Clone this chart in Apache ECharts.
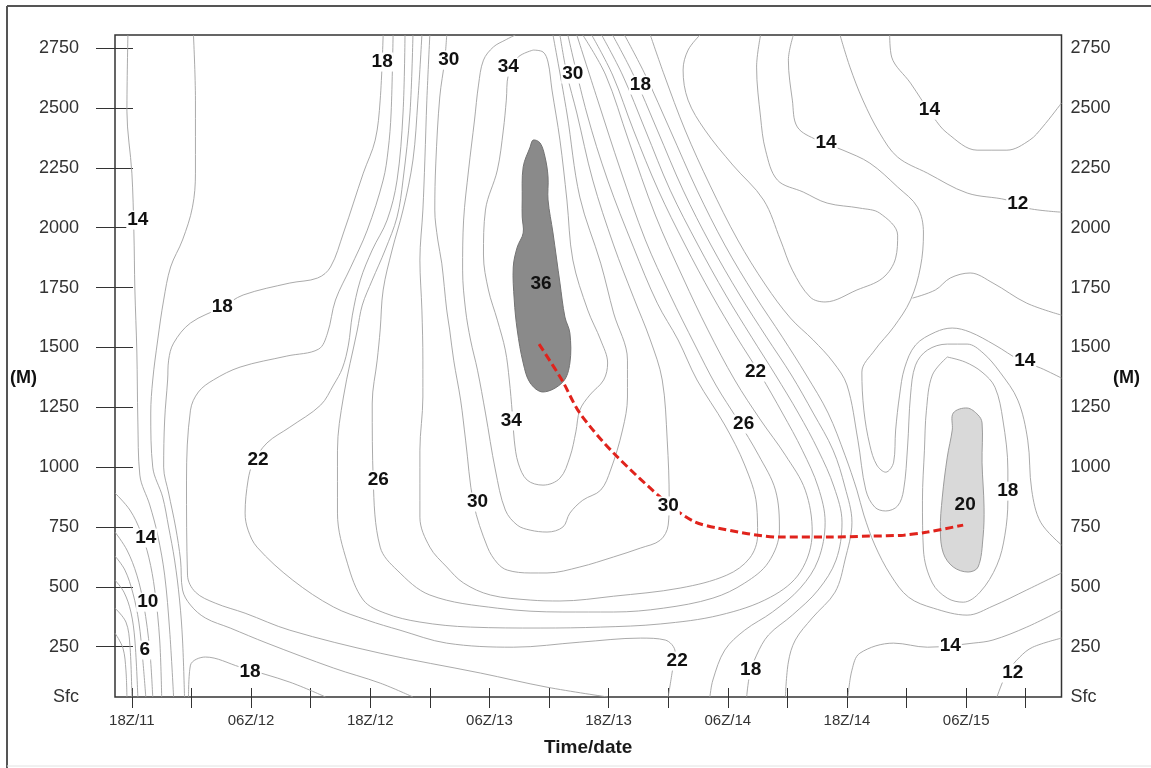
<!DOCTYPE html>
<html>
<head>
<meta charset="utf-8">
<script src="https://cdn.jsdelivr.net/npm/echarts@6.0.0/dist/echarts.min.js"></script>
<style>
  html, body { margin: 0; padding: 0; background: #fff; }
  #chart { width: 1151px; height: 768px; }
</style>
</head>
<body>
<div id="chart"></div>
<script>
// x = hours after 18Z/11, y = height in metres
const timeLabels = ['18Z/11', '06Z/12', '18Z/12', '06Z/13', '18Z/13', '06Z/14', '18Z/14', '06Z/15']
const labelHours = [0, 12, 24, 36, 48, 60, 72, 84]
const tickHours = [0, 6, 12, 18, 24, 30, 36, 42, 48, 54, 60, 66, 72, 78, 84, 90]
const heightTicks = [250, 500, 750, 1000, 1250, 1500, 1750, 2000, 2250, 2500, 2750]
const SFC = 40
const TOP = 2805
const T_MIN = -1.7
const T_MAX = 93.6

// isotachs, west side
const cWest4 = [[-1.7,307],[-0.9,244],[-0.6,152],[-0.5,40]]
const cWest6 = [[-1.7,411],[-0.6,353],[-0.2,257],[0.0,40]]
const cWest8 = [[-1.7,528],[-0.8,478],[-0.1,395],[0.3,278],[0.6,40]]
const cWest10 = [[-1.7,629],[-0.7,570],[0.1,474],[0.7,353],[1.1,194],[1.4,40]]
const cWest12 = [[-1.7,729],[-0.5,654],[0.5,549],[1.2,424],[1.8,236],[2.1,40]]
const cWest14 = [[-1.7,892],[-0.2,821],[0.9,729],[1.7,624],[2.3,487],[2.8,278],[3.0,40]]
const c14a = [[-0.4,2805],[-0.5,2487],[0.0,2228],[0.2,1986],[0.3,1744],[0.5,1481],[0.6,1197],[0.8,967],[1.8,842],[2.6,716],[3.3,549],[3.8,320],[4.2,40]]
const c16a = [[6.2,2805],[6.4,2533],[6.4,2228],[6.1,2086],[5.1,1949],[3.9,1836],[3.2,1698],[2.6,1531],[2.1,1364],[1.9,1226],[2.1,1000],[3.1,875],[3.7,750],[4.3,612],[4.8,445],[5.1,278],[5.3,40]]
const c18a = [[25.3,2805],[25.0,2533],[24.5,2366],[23.3,2228],[21.3,1978],[20.0,1836],[18.7,1790],[15.9,1769],[11.2,1719],[9.1,1669],[5.9,1602],[4.2,1518],[3.7,1447],[3.6,1364],[3.3,1197],[3.2,1000],[3.7,892],[4.4,750],[4.9,612],[5.1,487],[5.9,424],[7.4,370],[9.9,328],[13.6,265],[20.3,161],[25.0,98],[28.3,40]]
const c18Arch = [[5.7,40],[5.9,173],[7.4,207],[10.9,165],[15.9,102],[19.5,40]]
const c20a = [[26.3,2805],[26.1,2479],[25.8,2324],[25.3,2199],[23.7,1990],[22.0,1832],[20.5,1698],[19.7,1560],[18.8,1493],[15.6,1464],[10.9,1418],[8.2,1364],[6.7,1314],[5.9,1238],[5.5,946],[5.6,549],[6.4,478],[8.4,432],[11.4,390],[15.9,319],[25.0,223],[35.1,140],[41.8,81],[47.9,40]]
const c22a = [[27.5,2805],[27.3,2479],[26.7,2199],[25.7,2032],[24.2,1907],[23.0,1781],[22.2,1635],[21.8,1510],[21.2,1414],[20.3,1343],[19.0,1259],[15.9,1167],[13.6,1101],[12.2,1017],[11.7,946],[11.4,808],[11.7,737],[12.6,666],[16.2,528],[20.3,416],[23.7,361],[27.0,319],[31.7,265],[38.4,248],[45.1,269],[51.2,286],[53.7,278],[54.7,228],[54.4,144],[54.0,40]]

// around the jet core
const c24 = [[28.3,2805],[28.0,2479],[27.3,2199],[26.7,2045],[25.5,1907],[24.2,1781],[23.2,1677],[22.7,1573],[21.3,1293],[20.7,1071],[20.7,808],[21.7,599],[23.3,445],[25.5,390],[29.0,353],[34.1,332],[41.1,328],[47.2,332],[53.2,345],[59.2,382],[64.3,457],[67.3,562],[68.5,729],[67.8,904],[65.8,1050],[63.3,1197],[60.7,1364],[58.0,1573],[55.5,1790],[52.7,2053],[50.0,2366],[47.7,2638],[45.4,2805]]
const c26 = [[29.2,2805],[28.8,2533],[28.3,2283],[27.3,2074],[26.2,1907],[25.3,1740],[25.0,1573],[24.7,1447],[24.2,1268],[24.3,946],[25.0,666],[26.7,570],[30.0,466],[36.8,411],[43.4,395],[48.5,395],[53.5,411],[58.5,453],[61.7,516],[64.1,603],[65.2,737],[64.8,904],[63.1,1050],[61.0,1197],[58.8,1343],[56.7,1510],[54.2,1719],[51.7,1949],[49.2,2241],[46.9,2533],[44.8,2805]]
const c28 = [[30.0,2805],[29.7,2533],[29.5,2283],[29.3,2074],[29.0,1865],[29.2,1656],[29.3,1447],[29.3,1293],[29.0,1071],[29.0,791],[30.0,666],[31.7,583],[33.4,516],[36.1,466],[40.1,445],[43.1,441],[48.5,461],[55.2,495],[59.9,549],[62.2,620],[63.0,716],[62.9,842],[61.7,1009],[59.7,1176],[56.9,1364],[55.0,1531],[52.9,1685],[50.5,1919],[47.9,2199],[45.8,2479],[43.9,2805]]
const c30 = [[31.7,2805],[31.5,2700],[31.0,2546],[30.6,2270],[30.5,2074],[30.8,1949],[31.2,1852],[31.7,1656],[32.0,1573],[32.4,1447],[33.1,1280],[33.6,1113],[34.4,850],[35.8,666],[36.8,599],[37.8,570],[40.1,558],[41.8,558],[45.1,583],[48.5,625],[51.2,662],[53.2,695],[54.0,758],[54.1,862],[53.9,1113],[53.4,1364],[52.2,1531],[50.5,1710],[48.5,1928],[46.4,2199],[44.8,2479],[43.8,2642],[43.1,2805]]
const c32 = [[38.6,2805],[37.6,2784],[36.4,2755],[35.4,2700],[34.9,2596],[34.5,2450],[33.9,2241],[33.4,2032],[33.3,1823],[33.6,1656],[34.1,1531],[34.8,1405],[35.6,1226],[36.6,988],[37.6,821],[38.8,758],[40.1,737],[41.8,729],[43.4,750],[44.1,808],[45.4,862],[47.2,904],[48.2,988],[49.4,1155],[49.9,1293],[49.9,1447],[48.5,1644],[47.2,1852],[45.1,2128],[43.8,2479],[42.4,2805]]
const c34 = [[40.4,2742],[41.4,2734],[41.9,2692],[42.3,2575],[43.1,2366],[43.8,2116],[44.4,1865],[45.9,1656],[47.2,1531],[47.9,1435],[47.5,1364],[46.1,1301],[45.1,1238],[44.7,1147],[44.1,1042],[43.1,954],[41.4,925],[39.8,946],[38.9,1017],[38.5,1113],[38.3,1226],[38.0,1364],[37.6,1489],[36.8,1614],[35.9,1740],[35.4,1886],[35.6,2074],[36.8,2241],[37.4,2408],[37.7,2533],[37.9,2638],[38.9,2713],[40.4,2742]]

// east side
const c22b = [[46.3,2805],[48.4,2638],[50.5,2408],[53.0,2157],[55.7,1928],[58.4,1719],[60.9,1543],[63.3,1385],[65.5,1226],[67.5,1071],[69.1,917],[69.8,770],[69.1,612],[67.3,495],[64.5,395],[61.7,319],[59.7,236],[58.5,111],[58.2,40]]
const c18b = [[47.3,2805],[49.4,2638],[51.7,2408],[54.2,2157],[57.0,1928],[59.8,1719],[62.4,1543],[64.8,1385],[67.1,1226],[69.1,1071],[70.7,917],[71.5,770],[70.9,612],[69.1,487],[66.5,382],[64.1,299],[62.9,215],[62.2,131],[61.9,40]]
const c16b = [[48.4,2805],[50.5,2638],[52.9,2408],[55.5,2157],[58.3,1928],[61.2,1719],[63.9,1543],[66.4,1385],[68.6,1226],[70.6,1071],[71.8,917],[72.5,770],[71.8,612],[70.8,478],[68.5,370],[66.8,278],[66.1,186],[65.8,40]]
const c14b = [[49.6,2805],[51.7,2638],[54.2,2408],[56.9,2157],[59.7,1928],[62.7,1719],[65.5,1543],[67.9,1385],[70.1,1226],[71.8,1050],[73.0,904],[73.7,800],[74.8,675],[76.4,549],[78.2,457],[80.7,411],[84.1,382],[86.7,420],[90.1,487],[93.6,558]]
const c16c = [[52.2,2805],[53.6,2638],[55.7,2408],[58.2,2178],[61.0,1949],[63.8,1761],[66.3,1623],[68.6,1531],[70.6,1439],[72.0,1343],[73.1,1113],[73.9,904],[74.8,833],[75.9,817],[77.1,838],[77.7,904],[78.1,1084],[78.4,1301],[78.9,1426],[80.1,1489],[82.1,1514],[84.1,1514],[85.7,1477],[87.4,1397],[89.2,1280],[90.2,1113],[90.6,904],[91.5,770],[93.6,675]]
const c12Tongue = [[57.2,2805],[56.0,2742],[55.5,2659],[56.0,2533],[57.7,2408],[60.5,2262],[63.6,2116],[65.3,1949],[66.5,1823],[68.3,1710],[69.8,1690],[73.0,1740],[75.6,1790],[76.9,1873],[77.1,1969],[75.3,2061],[73.3,2082],[70.0,2103],[67.6,2149],[65.0,2199],[63.8,2324],[63.3,2462],[62.9,2671],[63.3,2805]]
const c14c = [[66.6,2805],[66.1,2700],[66.5,2533],[67.0,2421],[69.0,2366],[71.6,2324],[74.3,2270],[77.1,2170],[79.1,2086],[79.7,1978],[79.4,1836],[78.4,1698],[76.7,1585],[74.8,1489],[73.5,1397],[73.7,1238],[74.3,1092],[75.0,1009],[75.9,979],[76.7,1021],[76.9,1155],[77.3,1301],[77.8,1414],[78.9,1510],[80.9,1564],[82.6,1581],[84.4,1564],[86.9,1510],[89.4,1447],[91.5,1414],[93.6,1372]]
const cRight315 = [[93.6,1635],[90.1,1685],[86.7,1769],[84.4,1811],[82.4,1790],[80.9,1740],[78.6,1706]]
const c12North = [[71.3,2805],[72.3,2671],[73.6,2533],[75.3,2395],[77.1,2295],[80.1,2228],[84.1,2145],[88.1,2116],[90.1,2082],[93.6,2065]]
const c14North = [[76.3,2805],[76.5,2713],[78.4,2604],[80.7,2462],[82.1,2395],[85.1,2324],[88.1,2324],[90.4,2366],[91.7,2421],[93.6,2521]]
const c18Loop = [[82.1,1460],[83.9,1439],[85.6,1397],[86.9,1334],[87.7,1197],[88.2,988],[88.2,862],[87.9,716],[87.1,591],[85.4,478],[83.7,436],[82.1,453],[80.6,516],[79.7,654],[79.6,862],[79.8,1071],[80.0,1238],[80.6,1385],[82.1,1460]]
const c14South = [[72.1,40],[72.5,152],[73.3,223],[76.7,265],[80.1,248],[84.7,265],[86.7,278],[90.1,332],[93.6,403]]
const c12South = [[87.1,40],[88.1,140],[89.4,207],[90.7,248],[93.6,286]]

// shaded maxima
const core36 = [[40.4,2366],[41.1,2354],[41.6,2295],[41.9,2212],[41.9,2116],[42.4,1978],[43.1,1769],[43.6,1627],[44.1,1560],[44.1,1435],[43.4,1356],[41.4,1314],[40.1,1352],[39.4,1435],[38.8,1573],[38.5,1698],[38.4,1836],[38.8,1919],[39.4,1978],[39.3,2045],[39.3,2116],[39.4,2254],[40.1,2337]]
const core20 = [[82.7,1226],[84.1,1247],[85.2,1218],[85.6,1185],[85.6,1018],[85.8,833],[85.7,708],[85.2,583],[84.2,562],[82.7,583],[81.7,641],[81.4,737],[81.6,875],[82.1,1042],[82.6,1155]]

// jet axis (red dashed)
const jetAxis = [[41.0,1514],[43.3,1364],[45.1,1226],[48.5,1059],[53.9,850],[56.5,775],[58.9,746],[65.3,708],[70.0,708],[74.3,712],[77.7,716],[80.1,729],[83.7,758]]

// contour labels [hour, height, text]
const contourLabels = [
  [0.6,2032,'14'],[9.1,1669,'18'],[25.2,2692,'18'],[31.9,2700,'30'],[37.9,2671,'34'],[44.4,2642,'30'],
  [51.2,2596,'18'],[69.9,2353,'14'],[80.3,2491,'14'],[89.2,2099,'12'],[41.2,1765,'36'],[89.9,1444,'14'],
  [62.8,1397,'22'],[38.2,1193,'34'],[61.6,1180,'26'],[12.7,1030,'22'],[24.8,946,'26'],[34.8,854,'30'],
  [54.0,838,'30'],[88.2,900,'18'],[83.9,842,'20'],[1.4,704,'14'],[1.6,436,'10'],[1.3,236,'6'],
  [11.9,144,'18'],[54.9,190,'22'],[62.3,153,'18'],[82.4,253,'14'],[88.7,140,'12']
]
const onShading = ['36', '20']

const contours = [
  cWest4, cWest6, cWest8, cWest10, cWest12, cWest14, c14a, c16a, c18a, c18Arch, c20a, c22a,
  c24, c26, c28, c30, c32, c34, c22b, c18b, c16b, c14b, c16c, c12Tongue, c14c, cRight315,
  c12North, c14North, c18Loop, c14South, c12South
]

const FONT = 'Liberation Sans, Arial, sans-serif'
const chart = echarts.init(document.getElementById('chart'))

function shadeSeries(points, fill, stroke) {
  return {
    type: 'custom',
    silent: true,
    z: 3,
    data: [points[0]],
    renderItem: (params, api) => ({
      type: 'polygon',
      shape: { points: points.map((p) => api.coord(p)), smooth: 0.35 },
      style: { fill, stroke, lineWidth: 1 },
    }),
  }
}

const contourSeries = contours.map((pts) => ({
  type: 'line',
  data: pts,
  symbol: 'none',
  smooth: 0.35,
  silent: true,
  z: 2,
  lineStyle: { color: '#a0a0a0', width: 0.9 },
}))

const hourAxis = (extra) => Object.assign({
  type: 'value',
  min: T_MIN,
  max: T_MAX,
  position: 'bottom',
  axisLine: { show: false, onZero: false },
  splitLine: { show: false },
}, extra)

const heightAxis = (extra) => Object.assign({
  type: 'value',
  min: SFC,
  max: TOP,
  axisLine: { show: false, onZero: false },
  splitLine: { show: false },
}, extra)

const heightLabel = {
  customValues: [SFC, ...heightTicks],
  formatter: (v) => (v === SFC ? 'Sfc' : String(v)),
  fontSize: 18,
  color: '#333',
  fontFamily: FONT,
}

chart.setOption({
  animation: false,
  backgroundColor: '#fff',
  textStyle: { fontFamily: FONT },
  grid: {
    left: 115, right: 89.5, top: 35, bottom: 71,
    show: true, borderColor: '#333', borderWidth: 1.5,
    outerBoundsMode: 'none',
  },
  xAxis: [
    hourAxis({
      axisTick: { show: true, customValues: tickHours, length: 11, lineStyle: { color: '#333' } },
      axisLabel: {
        customValues: labelHours,
        formatter: (v) => timeLabels[labelHours.indexOf(Math.round(v))] || '',
        fontSize: 15, color: '#333', margin: 16, fontFamily: FONT,
      },
      name: 'Time/date',
      nameLocation: 'middle',
      nameGap: 41,
      nameTextStyle: { fontSize: 19, fontWeight: 'bold', color: '#1a1a1a', fontFamily: FONT },
    }),
    hourAxis({
      axisTick: { show: true, inside: true, customValues: tickHours, length: 9, lineStyle: { color: '#333' } },
      axisLabel: { show: false },
    }),
  ],
  yAxis: [
    heightAxis({
      position: 'left',
      axisTick: { show: true, customValues: heightTicks, length: 19, lineStyle: { color: '#333' } },
      axisLabel: Object.assign({ margin: 36 }, heightLabel),
    }),
    heightAxis({
      position: 'right',
      axisTick: { show: false },
      axisLabel: Object.assign({ margin: 9 }, heightLabel),
    }),
    heightAxis({
      position: 'left',
      axisTick: { show: true, inside: true, customValues: heightTicks, length: 18, lineStyle: { color: '#333' } },
      axisLabel: { show: false },
    }),
  ],
  graphic: [
    { type: 'line', shape: { x1: 7, y1: 6, x2: 7, y2: 768 }, style: { stroke: '#555', lineWidth: 2 } },
    { type: 'line', shape: { x1: 7, y1: 6, x2: 1151, y2: 6 }, style: { stroke: '#555', lineWidth: 2 } },
    { type: 'line', shape: { x1: 7, y1: 766, x2: 1151, y2: 766 }, style: { stroke: '#e2e2e2', lineWidth: 1 } },
    { type: 'text', left: 10, top: 369, style: { text: '(M)', font: 'bold 18px ' + FONT, fill: '#111' } },
    { type: 'text', left: 1113, top: 369, style: { text: '(M)', font: 'bold 18px ' + FONT, fill: '#111' } },
  ],
  series: [
    ...contourSeries,
    shadeSeries(core36, '#8a8a8a', '#737373'),
    shadeSeries(core20, '#d9d9d9', '#9c9c9c'),
    {
      type: 'line',
      data: jetAxis,
      symbol: 'none',
      smooth: 0.3,
      silent: true,
      z: 4,
      lineStyle: { color: '#e0231c', width: 3, type: [8, 4] },
    },
    {
      type: 'scatter',
      symbolSize: 1,
      silent: true,
      z: 5,
      itemStyle: { color: 'rgba(0,0,0,0)', opacity: 1 },
      data: contourLabels.map(([h, m, t]) => ({
        value: [h, m],
        name: t,
        label: onShading.includes(t) ? { backgroundColor: 'transparent' } : {},
      })),
      label: {
        show: true,
        position: 'inside',
        formatter: (p) => p.name,
        fontSize: 19,
        fontWeight: 'bold',
        color: '#111',
        opacity: 1,
        fontFamily: FONT,
        backgroundColor: '#fff',
        padding: [0, 1],
      },
    },
  ],
})

window.addEventListener('resize', () => chart.resize())
</script>
</body>
</html>
